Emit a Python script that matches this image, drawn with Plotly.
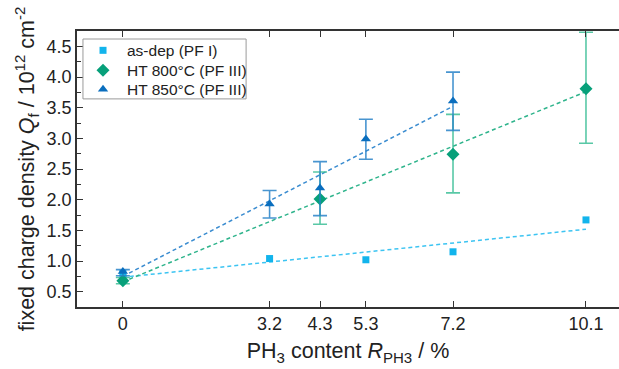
import plotly.graph_objects as go

# ---- data ----
x_ticks = [0, 3.2, 4.3, 5.3, 7.2, 10.1]
x_ticklabels = ["0", "3.2", "4.3", "5.3", "7.2", "10.1"]
y_ticks = [0.5, 1.0, 1.5, 2.0, 2.5, 3.0, 3.5, 4.0, 4.5]
y_ticklabels = ["0.5", "1.0", "1.5", "2.0", "2.5", "3.0", "3.5", "4.0", "4.5"]
y_minor = [0.25, 0.75, 1.25, 1.75, 2.25, 2.75, 3.25, 3.75, 4.25, 4.75]

series_names = ["as-dep (PF I)", "HT 800°C (PF III)", "HT 850°C (PF III)"]

asdep_x = [0, 3.2, 5.3, 7.2, 10.1]
asdep_y = [0.80, 1.04, 1.02, 1.15, 1.67]

ht800_x = [0, 4.3, 7.2, 10.1]
ht800_y = [0.68, 2.01, 2.74, 3.81]
ht800_err_up = [0.05, 0.44, 0.65, 0.92]
ht800_err_dn = [0.05, 0.41, 0.63, 0.89]

ht850_x = [0, 3.2, 4.3, 5.3, 7.2]
ht850_y = [0.83, 1.93, 2.19, 2.99, 3.61]
ht850_err_up = [0.03, 0.22, 0.43, 0.32, 0.47]
ht850_err_dn = [0.07, 0.23, 0.45, 0.33, 0.48]

# linear fits (intercept, slope, x-extent)
fit_asdep = [0.735, 0.0775, 10.1]
fit_ht800 = [0.66, 0.307, 10.1]
fit_ht850 = [0.75, 0.385, 7.2]

c_asdep = "#12B4EC"
c_ht800 = "#07A07A"
c_ht850 = "#0A6EBE"
c_ht800_err = "rgba(60,190,150,0.85)"
c_ht850_err = "rgba(40,130,200,0.85)"

FONT = "Liberation Sans, Arial, sans-serif"
TXT = "#222"

fig = go.Figure()

def fit_line(p, color):
    xs = [0, p[2]]
    ys = [p[0] + p[1] * v for v in xs]
    fig.add_trace(go.Scatter(x=xs, y=ys, mode="lines", showlegend=False,
                             hoverinfo="skip",
                             line=dict(color=color, width=1.5, dash="4px,3px")))

fit_line(fit_asdep, "#3CC4F2")
fit_line(fit_ht800, "#2FB48C")
fit_line(fit_ht850, "#3A8CD0")

fig.add_trace(go.Scatter(
    x=asdep_x, y=asdep_y, mode="markers", name=series_names[0], showlegend=False,
    marker=dict(symbol="square", size=7, color=c_asdep)))

fig.add_trace(go.Scatter(
    x=ht800_x, y=ht800_y, mode="markers", name=series_names[1], showlegend=False,
    marker=dict(symbol="diamond", size=10, color=c_ht800),
    error_y=dict(type="data", symmetric=False, array=ht800_err_up,
                 arrayminus=ht800_err_dn, color=c_ht800_err,
                 thickness=1.6, width=7)))

fig.add_trace(go.Scatter(
    x=ht850_x, y=ht850_y, mode="markers", name=series_names[2], showlegend=False,
    marker=dict(symbol="triangle-up", size=9, color=c_ht850),
    error_y=dict(type="data", symmetric=False, array=ht850_err_up,
                 arrayminus=ht850_err_dn, color=c_ht850_err,
                 thickness=1.6, width=7)))

# ---- hand-built legend (compact rows like the reference) ----
leg_mx = 0.048
leg_tx = 0.0886
leg_rows = [0.930, 0.858, 0.789]
for sym, sz, col, yy in zip(["square", "diamond", "triangle-up"], [7, 10, 9],
                            [c_asdep, c_ht800, c_ht850], leg_rows):
    fig.add_trace(go.Scatter(
        x=[leg_mx], y=[yy], mode="markers", showlegend=False, hoverinfo="skip",
        xaxis="x2", yaxis="y2",
        marker=dict(symbol=sym, size=sz, color=col, opacity=1)))
for name, yy in zip(series_names, leg_rows):
    fig.add_annotation(x=leg_tx, y=yy, xref="paper", yref="paper", text=name,
                       showarrow=False, xanchor="left", yanchor="middle",
                       font=dict(family=FONT, size=15.5, color=TXT))
fig.add_shape(type="rect", xref="paper", yref="paper", x0=0.011, x1=0.312,
              y0=0.754, y1=0.971, line=dict(color="#9a9a9a", width=1),
              fillcolor="rgba(0,0,0,0)", layer="above")

tick_font = dict(family=FONT, size=18, color=TXT)

fig.update_layout(
    width=619, height=369,
    margin=dict(l=77, r=0, t=31, b=62),
    plot_bgcolor="white", paper_bgcolor="white",
    font=dict(family=FONT, size=18, color=TXT),
    showlegend=False,
    xaxis=dict(range=[-1.0, 10.82], tickvals=x_ticks, ticktext=x_ticklabels,
               tickfont=tick_font,
               showline=True, linecolor="#333", linewidth=1.5, mirror="ticks",
               ticks="inside", ticklen=6, tickwidth=1.3, tickcolor="#333",
               showgrid=False, zeroline=False,
               title=dict(text="PH<sub>3</sub> content <i>R</i><sub>PH3</sub> / %",
                          standoff=10, font=dict(family=FONT, size=21.5, color=TXT))),
    yaxis=dict(range=[0.25, 4.75], tickvals=y_ticks, ticktext=y_ticklabels,
               tickfont=tick_font,
               showline=True, linecolor="#333", linewidth=1.5, mirror=False,
               ticks="inside", ticklen=6, tickwidth=1.3, tickcolor="#333",
               minor=dict(tickvals=y_minor, ticks="inside", ticklen=4,
                          tickwidth=1.1, tickcolor="#333"),
               showgrid=False, zeroline=False,
               title=dict(text="fixed charge density <i>Q</i><sub>f</sub> / 10<sup>12</sup> cm<sup>-2</sup>",
                          standoff=6, font=dict(family=FONT, size=21.5, color=TXT))),
    xaxis2=dict(overlaying="x", range=[0, 1], visible=False, fixedrange=True),
    yaxis2=dict(overlaying="y", range=[0, 1], visible=False, fixedrange=True),
)

fig.write_html("out.html")
